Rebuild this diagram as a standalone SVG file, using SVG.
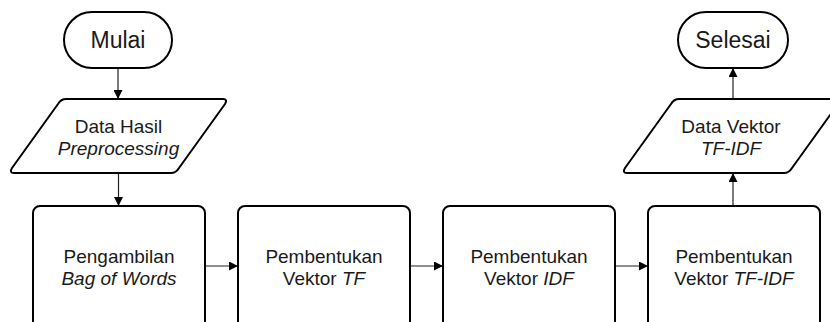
<svg xmlns="http://www.w3.org/2000/svg" width="830" height="322" viewBox="0 0 830 322">
  <style>
    .shape { fill: #ffffff; stroke: #000000; stroke-width: 2; stroke-linejoin: round; }
    .label { font-family: "Liberation Sans", Arial, sans-serif; font-size: 19px; fill: #1a1a1a; text-anchor: middle; }
    .big { font-size: 23px; }
    .it { font-style: italic; }
    .conn { fill: none; stroke: #222222; stroke-width: 1.2; marker-end: url(#arrow); }
  </style>
  <defs>
    <marker id="arrow" viewBox="0 0 10 10" refX="10" refY="5" markerWidth="9" markerHeight="9" markerUnits="userSpaceOnUse" orient="auto">
      <path d="M0,0 L10,5 L0,10 Z" fill="#000000"/>
    </marker>
  </defs>

  <rect width="830" height="322" fill="#ffffff"/>

  <g id="connectors">
    <line class="conn" x1="118" y1="68" x2="118" y2="99"/>
    <line class="conn" x1="118.5" y1="173" x2="118.5" y2="206"/>
    <line class="conn" x1="205" y1="266" x2="238" y2="266"/>
    <line class="conn" x1="410" y1="266" x2="443" y2="266"/>
    <line class="conn" x1="615" y1="266" x2="648" y2="266"/>
    <line class="conn" x1="733" y1="206" x2="733" y2="173"/>
    <line class="conn" x1="733" y1="99" x2="733" y2="68"/>
  </g>

  <g id="mulai">
    <rect class="shape" x="64" y="12" width="108" height="56" rx="28" ry="28"/>
    <text class="label big" x="118" y="48">Mulai</text>
  </g>

  <g id="data-hasil">
    <path class="shape" d="M66,99 L223,99 Q228,99 225,104 L179,168 Q176,173 171,173 L14,173 Q9,173 12,168 L58,104 Q61,99 66,99 Z"/>
    <text class="label" x="118.5" y="133">Data Hasil</text>
    <text class="label it" x="118.5" y="155">Preprocessing</text>
  </g>

  <g id="bag-of-words">
    <rect class="shape" x="33" y="206" width="172" height="130" rx="7" ry="7"/>
    <text class="label" x="119" y="263">Pengambilan</text>
    <text class="label it" x="119" y="285">Bag of Words</text>
  </g>

  <g id="vektor-tf">
    <rect class="shape" x="238" y="206" width="172" height="130" rx="7" ry="7"/>
    <text class="label" x="324" y="263">Pembentukan</text>
    <text class="label" x="324" y="285">Vektor <tspan class="it">TF</tspan></text>
  </g>

  <g id="vektor-idf">
    <rect class="shape" x="443" y="206" width="172" height="130" rx="7" ry="7"/>
    <text class="label" x="529" y="263">Pembentukan</text>
    <text class="label" x="529" y="285">Vektor <tspan class="it">IDF</tspan></text>
  </g>

  <g id="vektor-tfidf">
    <rect class="shape" x="648" y="206" width="172" height="130" rx="7" ry="7"/>
    <text class="label" x="734" y="263">Pembentukan</text>
    <text class="label" x="734" y="285">Vektor <tspan class="it">TF-IDF</tspan></text>
  </g>

  <g id="data-vektor">
    <path class="shape" d="M679,99 L836,99 Q841,99 838,104 L792,168 Q789,173 784,173 L627,173 Q622,173 625,168 L671,104 Q674,99 679,99 Z"/>
    <text class="label" x="731" y="133">Data Vektor</text>
    <text class="label it" x="731" y="155">TF-IDF</text>
  </g>

  <g id="selesai">
    <rect class="shape" x="678" y="12" width="110" height="56" rx="28" ry="28"/>
    <text class="label big" x="733" y="48">Selesai</text>
  </g>
</svg>
